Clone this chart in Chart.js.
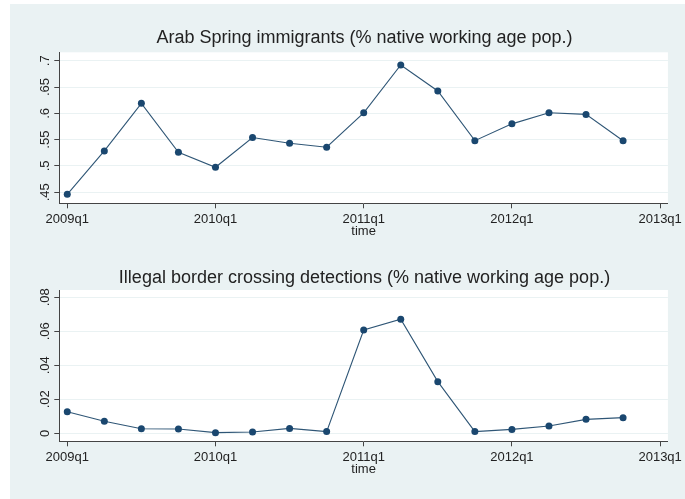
<!DOCTYPE html>
<html>
<head>
<meta charset="utf-8">
<script src="https://cdn.jsdelivr.net/npm/chart.js@4/dist/chart.umd.min.js"></script>
<style>
  html, body { margin: 0; padding: 0; background: #ffffff; }
  #fondo { position: absolute; left: 10px; top: 4px; width: 675px; height: 495px; background: #eaf2f3; }
  #graficoArriba { position: absolute; left: 0; top: 0; }
  #graficoAbajo { position: absolute; left: 0; top: 250px; }
</style>
</head>
<body>
<div id="fondo"></div>
<canvas id="graficoArriba" width="685" height="250"></canvas>
<canvas id="graficoAbajo" width="685" height="249"></canvas>
<script>
// Trimestres (eje X: índice 0 = 2009q1)
const trimestres = ['2009q1', '2009q2', '2009q3', '2009q4', '2010q1', '2010q2', '2010q3', '2010q4',
  '2011q1', '2011q2', '2011q3', '2011q4', '2012q1', '2012q2', '2012q3', '2012q4'];

// Inmigrantes Primavera Árabe (% población nativa en edad de trabajar)
const inmigrantes = [0.446, 0.5285, 0.619, 0.526, 0.4975, 0.554, 0.543, 0.5355,
  0.601, 0.692, 0.6424, 0.548, 0.58, 0.601, 0.598, 0.548];

// Detecciones de cruces ilegales de frontera (% población nativa en edad de trabajar)
const detecciones = [0.0127, 0.0071, 0.0027, 0.0025, 0.0004, 0.0008, 0.0029, 0.0010,
  0.0608, 0.0671, 0.0304, 0.0010, 0.0023, 0.0043, 0.0082, 0.0092];

// Marcas de los ejes
const xTicks = [0, 4, 8, 12, 16];
const xTickLabels = ['2009q1', '2010q1', '2011q1', '2012q1', '2013q1'];
const yTicksArriba = [0.45, 0.5, 0.55, 0.6, 0.65, 0.7];
const yLabelsArriba = ['.45', '.5', '.55', '.6', '.65', '.7'];
const yTicksAbajo = [0, 0.02, 0.04, 0.06, 0.08];
const yLabelsAbajo = ['0', '.02', '.04', '.06', '.08'];

const azul = '#1a476f';
const texto = '#222222';
const ejeColor = '#444444';
const fuente = 'Liberation Sans, Arial, sans-serif';

// Fondo blanco del área de trazado
const fondoArea = {
  id: 'fondoArea',
  beforeDraw(chart) {
    const a = chart.chartArea;
    const ctx = chart.ctx;
    ctx.save();
    ctx.fillStyle = '#ffffff';
    ctx.fillRect(a.left, a.top, a.right - a.left, a.bottom - a.top);
    ctx.restore();
  }
};

// Etiquetas del eje Y giradas 90° (como en Stata), leídas de abajo hacia arriba
const etiquetasY = {
  id: 'etiquetasY',
  afterDraw(chart, args, opts) {
    const y = chart.scales.y;
    const ctx = chart.ctx;
    ctx.save();
    ctx.fillStyle = texto;
    ctx.font = '13px ' + fuente;
    ctx.textAlign = 'center';
    ctx.textBaseline = 'middle';
    opts.valores.forEach((v, i) => {
      ctx.save();
      ctx.translate(chart.chartArea.left - 14, y.getPixelForValue(v));
      ctx.rotate(-Math.PI / 2);
      ctx.fillText(opts.etiquetas[i], 0, 0);
      ctx.restore();
    });
    ctx.restore();
  }
};

function crearGrafico(id, titulo, valores, yMin, yMax, yTicks, yLabels, tituloPad, padAbajo) {
  return new Chart(document.getElementById(id), {
    type: 'line',
    data: {
      datasets: [{
        data: valores.map((v, i) => ({ x: i, y: v })),
        borderColor: '#2f5676',
        borderWidth: 1.1,
        pointRadius: 3.5,
        pointBackgroundColor: azul,
        pointBorderWidth: 0,
        tension: 0
      }]
    },
    options: {
      responsive: false,
      animation: false,
      layout: { padding: { top: 0, left: 58, right: 14, bottom: padAbajo } },
      plugins: {
        legend: { display: false },
        tooltip: { enabled: false },
        title: {
          display: true,
          text: titulo,
          color: texto,
          font: { family: fuente, size: 18, weight: 'normal', lineHeight: 1 },
          padding: tituloPad
        },
        etiquetasY: { valores: yTicks, etiquetas: yLabels }
      },
      scales: {
        x: {
          type: 'linear',
          min: -0.215,
          max: 16.21,
          afterBuildTicks: s => { s.ticks = xTicks.map(v => ({ value: v })); },
          afterFit: s => { s.height = 36; },
          ticks: {
            autoSkip: false,
            maxRotation: 0,
            padding: 3,
            color: texto,
            font: { family: fuente, size: 13 },
            callback: v => xTickLabels[xTicks.indexOf(v)]
          },
          grid: { drawOnChartArea: false, tickLength: 5, tickColor: ejeColor },
          border: { display: true, color: ejeColor, width: 1 },
          title: {
            display: true,
            text: 'time',
            color: texto,
            font: { family: fuente, size: 13, lineHeight: 1.2 },
            padding: { top: 0, bottom: 0.5 }
          }
        },
        y: {
          min: yMin,
          max: yMax,
          afterBuildTicks: s => { s.ticks = yTicks.map(v => ({ value: v })); },
          afterFit: s => { s.width = 1.3; },
          ticks: { display: false },
          grid: { color: '#eaf2f3', lineWidth: 1, tickLength: 5, tickColor: ejeColor },
          border: { display: true, color: ejeColor, width: 1 }
        }
      }
    },
    plugins: [fondoArea, etiquetasY]
  });
}

crearGrafico('graficoArriba', 'Arab Spring immigrants (% native working age pop.)',
  inmigrantes, 0.429, 0.716, yTicksArriba, yLabelsArriba, { top: 29.3, bottom: 5 }, 10.7);

crearGrafico('graficoAbajo', 'Illegal border crossing detections (% native working age pop.)',
  detecciones, -0.0047, 0.0843, yTicksAbajo, yLabelsAbajo, { top: 19, bottom: 3 }, 21.7);
</script>
</body>
</html>
